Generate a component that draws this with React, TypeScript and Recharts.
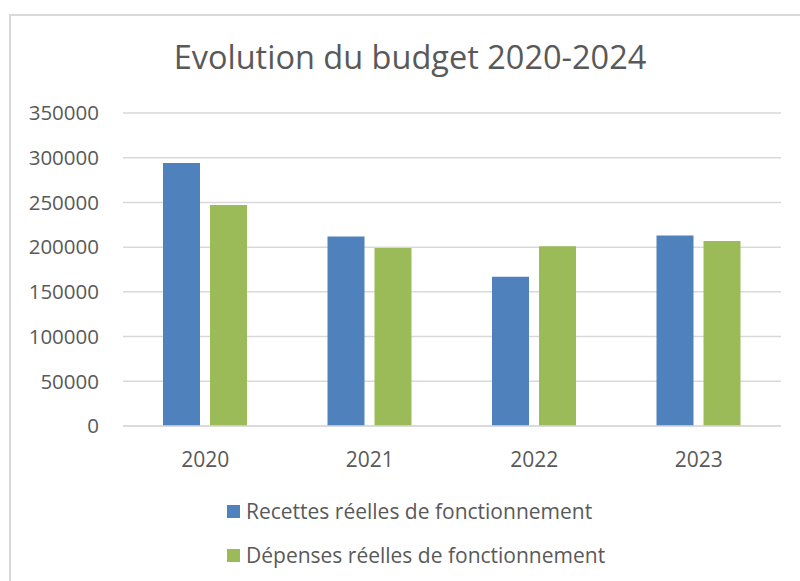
import { BarChart, Bar, XAxis, YAxis, CartesianGrid } from 'recharts'

const years = ['2020', '2021', '2022', '2023']
const recettes = [294000, 212000, 167000, 213000]
const depenses = [247000, 199000, 201000, 207000]
const yTicks = [0, 50000, 100000, 150000, 200000, 250000, 300000, 350000]

const seriesNames = ['Recettes réelles de fonctionnement', 'Dépenses réelles de fonctionnement']
const seriesColors = ['#4f81bd', '#9bbb59']

const data = years.map((year, i) => ({
  year,
  recettes: recettes[i],
  depenses: depenses[i],
}))

const FONT = '"Open Sans", sans-serif'
const TEXT = '#595959'

function App() {
  return (
    <div style={{ position: 'absolute', left: 0, top: 0, width: 800, height: 581, background: '#fff', overflow: 'hidden', fontFamily: FONT }}>
      <div
        style={{
          position: 'absolute',
          left: 9,
          top: 14,
          width: 900,
          height: 700,
          borderLeft: '2px solid #d9d9d9',
          borderTop: '2px solid #d9d9d9',
        }}
      />
      <div
        style={{
          position: 'absolute',
          left: 9,
          top: 35,
          width: 802,
          textAlign: 'center',
          fontSize: 32.5,
          lineHeight: '44px',
          color: TEXT,
        }}
      >
        Evolution du budget 2020-2024
      </div>
      <div style={{ position: 'absolute', left: 0, top: 0 }}>
        <BarChart
          width={800}
          height={581}
          data={data}
          margin={{ top: 113, right: 19, bottom: 0, left: 0 }}
          barSize={37}
          barGap={10}
        >
          <CartesianGrid vertical={false} stroke="#d9d9d9" strokeWidth={1.5} />
          <XAxis
            dataKey="year"
            height={155}
            tickLine={false}
            tickSize={0}
            tickMargin={26}
            stroke="#d9d9d9"
            strokeWidth={1.5}
            tick={{ fill: TEXT, fontSize: 21, fontFamily: FONT }}
          />
          <YAxis
            width={123}
            domain={[0, 350000]}
            ticks={yTicks}
            axisLine={false}
            tickLine={false}
            tickSize={0}
            tickMargin={24}
            tick={{ fill: TEXT, fontSize: 20.5, fontFamily: FONT }}
          />
          <Bar dataKey="recettes" name={seriesNames[0]} fill={seriesColors[0]} isAnimationActive={false} />
          <Bar dataKey="depenses" name={seriesNames[1]} fill={seriesColors[1]} isAnimationActive={false} />
        </BarChart>
      </div>
      {seriesNames.map((name, i) => (
        <div
          key={name}
          style={{
            position: 'absolute',
            left: 227,
            top: 496 + i * 44,
            height: 30,
            display: 'flex',
            alignItems: 'center',
            fontSize: 21,
            color: TEXT,
            whiteSpace: 'nowrap',
          }}
        >
          <span style={{ display: 'inline-block', width: 13, height: 13, background: seriesColors[i], marginRight: 6 }} />
          {name}
        </div>
      ))}
    </div>
  )
}

export default App
